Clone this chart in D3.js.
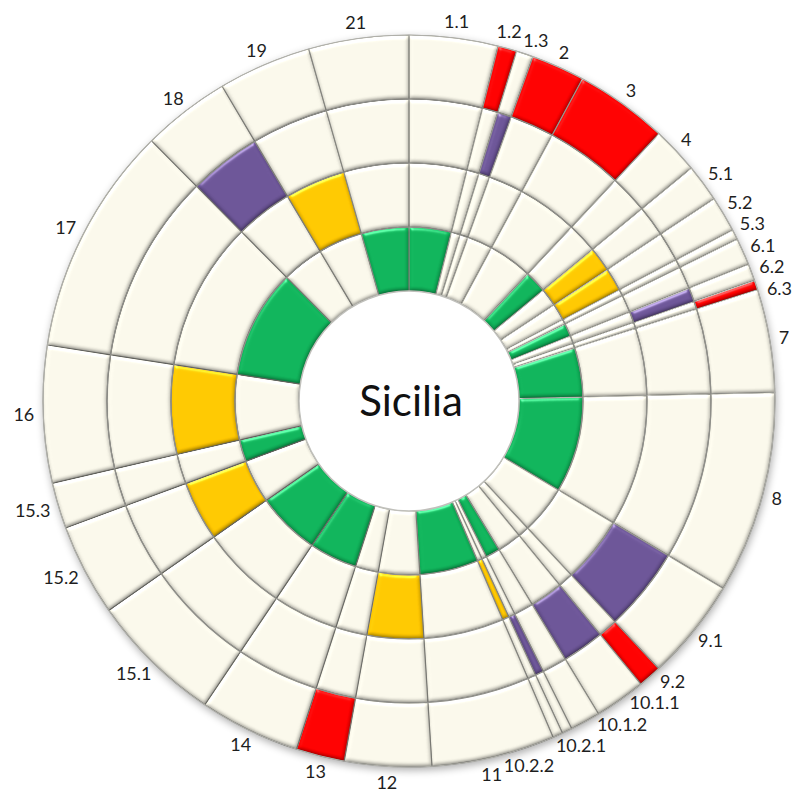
<!DOCTYPE html>
<html>
<head>
<meta charset="utf-8">
<script src="https://cdn.jsdelivr.net/npm/d3@7"></script>
<style>
  html, body { margin: 0; padding: 0; background: #ffffff; }
  svg { display: block; }
</style>
</head>
<body>
<svg id="chart" width="795" height="807"></svg>
<script>
// ---------- DATA ----------
const categories = ["1.1","1.2","1.3","2","3","4","5.1","5.2","5.3","6.1","6.2","6.3","7","8",
  "9.1","9.2","10.1.1","10.1.2","10.2.1","10.2.2","11","12","13","14","15.1","15.2","15.3",
  "16","17","18","19","21"];
// angular weight of each sector (degrees of the full circle)
const weights = [14.1,3.0,2.7,8.5,14.8,7.4,6.0,5.7,1.6,4.3,2.7,1.5,16.4,32.1,
  16.2,3.7,8.1,4.8,1.6,1.6,19.6,13.8,7.7,16.0,21.2,14.6,7.3,
  21.8,36.5,14.0,14.8,15.9];
// ring that is coloured for each sector (1 = inner ... 4 = outer, 0 = none)
const levels = [1,4,3,4,4,1,2,2,0,1,3,4,1,1,
  3,4,3,1,3,2,1,2,4,1,1,2,1,
  2,1,3,2,1];
const ringLevels = [1,2,3,4];
const centerTitle = "Sicilia";

// ---------- STYLE ----------
const ringColors = {1:"#0fb35a", 2:"#ffc700", 3:"#6b5496", 4:"#ff0000"};
const cream = "#f8f6e9";
const cx = 409, cy = 401, rIn = 110, rOut = 366;

const svg = d3.select("#chart");
const defs = svg.append("defs");

// soft bevel filter
const bev = defs.append("filter").attr("id","bevel")
  .attr("x","-10%").attr("y","-10%").attr("width","120%").attr("height","120%")
  .attr("color-interpolation-filters","sRGB");
bev.append("feGaussianBlur").attr("in","SourceAlpha").attr("stdDeviation",2).attr("result","blur");
bev.append("feDiffuseLighting").attr("in","blur").attr("surfaceScale",2.5)
  .attr("diffuseConstant",1.22).attr("lighting-color","#ffffff").attr("result","diff")
  .append("feDistantLight").attr("azimuth",250).attr("elevation",55);
bev.append("feSpecularLighting").attr("in","blur").attr("surfaceScale",2.5)
  .attr("specularConstant",0.8).attr("specularExponent",28).attr("lighting-color","#ffffff").attr("result","spec")
  .append("feDistantLight").attr("azimuth",250).attr("elevation",35);
bev.append("feComposite").attr("in","SourceGraphic").attr("in2","diff")
  .attr("operator","arithmetic").attr("k1",0.55).attr("k2",0.45).attr("k3",0).attr("k4",0).attr("result","shaded");
bev.append("feComposite").attr("in","spec").attr("in2","SourceAlpha").attr("operator","in").attr("result","specIn");
bev.append("feComposite").attr("in","shaded").attr("in2","specIn")
  .attr("operator","arithmetic").attr("k1",0).attr("k2",1).attr("k3",0.45).attr("k4",0).attr("result","lit");
bev.append("feComposite").attr("in","lit").attr("in2","SourceAlpha").attr("operator","in");

// drop shadow filter
const sh = defs.append("filter").attr("id","shadow")
  .attr("x","-10%").attr("y","-10%").attr("width","120%").attr("height","120%");
sh.append("feGaussianBlur").attr("in","SourceAlpha").attr("stdDeviation",4).attr("result","b");
sh.append("feOffset").attr("in","b").attr("dx",1).attr("dy",3).attr("result","o");
sh.append("feComponentTransfer").attr("in","o")
  .append("feFuncA").attr("type","linear").attr("slope",0.35);

const g = svg.append("g").attr("transform",`translate(${cx},${cy})`);

// shadow behind whole disc
g.append("circle").attr("r", rOut).attr("fill","#888").attr("filter","url(#shadow)");

const rScale = d3.scaleLinear().domain([0, 4]).range([rIn, rOut]);
const rows = categories.map((c,i)=>({cat:c, w:weights[i], lvl:levels[i]}));
const pie = d3.pie().value(d=>d.w).sort(null);
const arcs = pie(rows);
const arcGen = d3.arc();

ringLevels.forEach(ring => {
  g.append("g").selectAll("path").data(arcs).join("path")
    .attr("d", a => arcGen({innerRadius: rScale(ring-1), outerRadius: rScale(ring),
      startAngle: a.startAngle, endAngle: a.endAngle}))
    .attr("fill", a => a.data.lvl === ring ? ringColors[ring] : cream)
    .attr("stroke", "#96968f")
    .attr("stroke-width", 1.2)
    .attr("stroke-linejoin","round")
    .attr("filter","url(#bevel)");
});

// ring outlines
ringLevels.forEach(ring => {
  g.append("circle").attr("r", rScale(ring)).attr("fill","none")
    .attr("stroke", ring === 4 ? "#b0b0aa" : "#8f8f8a").attr("stroke-width", 1.1);
});
g.append("circle").attr("r", rIn).attr("fill","#ffffff").attr("stroke","#c0c0bb").attr("stroke-width",1.5);

// center title
g.append("text").text(centerTitle)
  .attr("x", 2).attr("y", 15)
  .attr("text-anchor","middle")
  .attr("font-family","Lato, 'Open Sans', sans-serif")
  .attr("font-size", 42)
  .attr("fill","#111");

// ---------- LABELS ----------
const fs = 18, gap = 9, lh = 20;
const lg = g.append("g").attr("font-family","Lato, 'Open Sans', sans-serif")
  .attr("font-size", fs).attr("fill","#1e1e1e").attr("text-anchor","middle");
const labels = arcs.map(a => ({text: a.data.cat, ang: (a.startAngle + a.endAngle)/2}));
const texts = lg.selectAll("text").data(labels).join("text").text(d => d.text);
texts.each(function(d){ d.w = this.getComputedTextLength(); d.h = lh; });

function box(l){
  const s = Math.sin(l.ang), c = Math.cos(l.ang);
  const x = (rOut + gap) * s + (l.w/2) * s;
  const y = -(rOut + gap) * c - (14/2) * c;
  return {x, y, x0:x-l.w/2, x1:x+l.w/2, y0:y-l.h/2, y1:y+l.h/2};
}
function overlap(a, b, pad){
  return a.x0 < b.x1 + pad && b.x0 < a.x1 + pad && a.y0 < b.y1 + pad && b.y0 < a.y1 + pad;
}
const n = labels.length;
for (let it = 0; it < 4000; it++) {
  let moved = false;
  for (let i = 0; i < n; i++) {
    const a = labels[i], b = labels[(i+1)%n];
    if (overlap(box(a), box(b), 1.5)) {
      a.ang -= 0.0008; b.ang += 0.0008; moved = true;
    }
  }
  if (!moved) break;
}
texts.attr("x", d => box(d).x).attr("y", d => box(d).y + 0.36*fs);
</script>
</body>
</html>
